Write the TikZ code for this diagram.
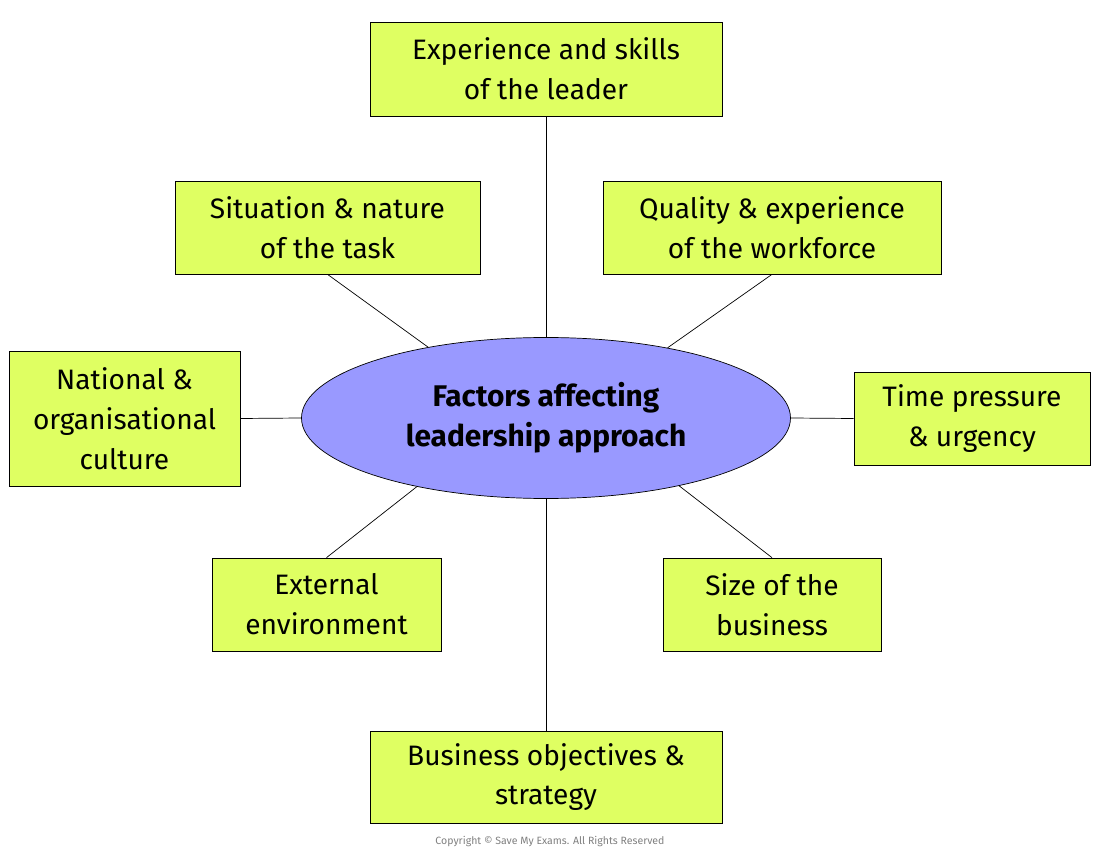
\documentclass[tikz,border=0pt]{standalone}
\usepackage{fontspec}
\setmainfont{Fira Sans}
\usetikzlibrary{shapes.geometric}
\definecolor{boxgreen}{HTML}{DFFF62}
\definecolor{ellblue}{HTML}{9999FF}
\tikzset{
  factor/.style={draw, fill=boxgreen, align=center, inner sep=0pt,
    font=\fontsize{16}{22.7}\selectfont},
}
\begin{document}
\begin{tikzpicture}[x=0.02cm,y=-0.02cm]
    \useasboundingbox (0,0) rectangle (1100,858);

    \node[draw, fill=ellblue, ellipse, minimum width=489*0.02cm, minimum height=161*0.02cm,
      align=center, font=\fontsize{17}{22.7}\selectfont\bfseries] (ell) at (546,418)
      {Factors affecting\\leadership approach};

    \node[factor, minimum width=352*0.02cm, minimum height=94*0.02cm] (exp) at (546,69) {Experience and skills\\of the leader};
    \node[factor, minimum width=305*0.02cm, minimum height=93*0.02cm] (sit) at (327.5,227.5) {Situation \& nature\\of the task};
    \node[factor, minimum width=338*0.02cm, minimum height=93*0.02cm] (qual) at (772,227.5) {Quality \& experience\\of the workforce};
    \node[factor, minimum width=231*0.02cm, minimum height=135*0.02cm] (nat) at (124.5,418.5) {National \&\\organisational\\culture};
    \node[factor, minimum width=236*0.02cm, minimum height=93*0.02cm] (time) at (972,418.5) {Time pressure\\\& urgency};
    \node[factor, minimum width=229*0.02cm, minimum height=93*0.02cm] (ext) at (326.5,604.5) {External\\environment};
    \node[factor, minimum width=218*0.02cm, minimum height=93*0.02cm] (size) at (772,604.5) {Size of the\\business};
    \node[factor, minimum width=352*0.02cm, minimum height=92*0.02cm] (obj) at (546,777) {Business objectives \&\\strategy};

    \draw (exp.south) -- (ell.north);
    \draw (obj.north) -- (ell.south);
    \draw (nat.east) -- (ell.west);
    \draw (time.west) -- (ell.east);
    \draw (sit.south) -- (ell.149);
    \draw (qual.south) -- (ell.30);
    \draw (ext.north) -- (ell.208);
    \draw (size.north) -- (ell.-27);

    \node[text=gray, font=\fontsize{6}{7}\selectfont] (copy) at (550,842) {Copyright © Save My Exams. All Rights Reserved};
\end{tikzpicture}
\end{document}
